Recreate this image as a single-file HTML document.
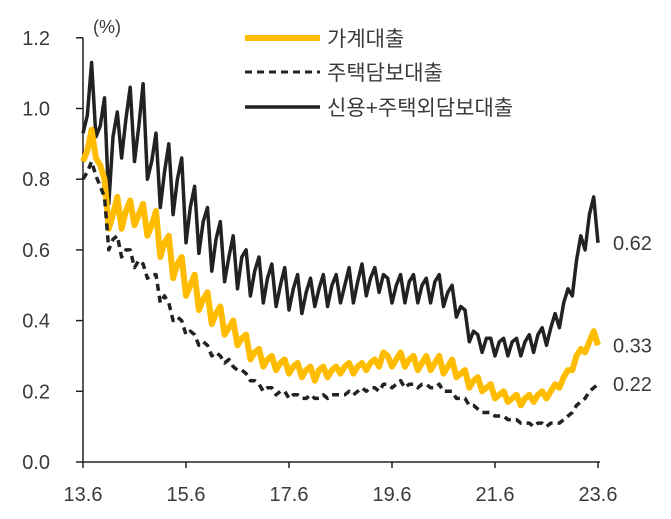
<!DOCTYPE html>
<html><head><meta charset="utf-8"><style>
body{margin:0;background:#fff}
svg text{font-family:"Liberation Sans","Noto Sans CJK KR",sans-serif;fill:#3a3a3a}
</style></head><body>
<svg id="chart" width="671" height="514" viewBox="0 0 671 514" xmlns="http://www.w3.org/2000/svg"></svg>
<script>
const yTicks=[0.0,0.2,0.4,0.6,0.8,1.0,1.2];
const xTickLabels=["13.6","15.6","17.6","19.6","21.6","23.6"];
const household=[0.85,0.88,0.94,0.86,0.84,0.80,0.66,0.70,0.75,0.66,0.71,0.74,0.67,0.70,0.73,0.64,0.67,0.71,0.58,0.62,0.64,0.52,0.56,0.58,0.47,0.50,0.53,0.43,0.46,0.48,0.39,0.42,0.44,0.36,0.38,0.40,0.33,
0.35,0.36,0.29,0.31,0.32,0.27,0.29,0.30,0.26,0.28,0.29,0.25,0.27,0.28,0.24,0.26,0.27,0.23,0.26,0.27,0.24,0.26,0.27,0.25,0.27,0.28,0.25,0.27,0.28,0.26,0.28,0.29,0.27,0.31,0.30,0.27,
0.29,0.31,0.27,0.29,0.30,0.26,0.28,0.30,0.26,0.28,0.30,0.25,0.27,0.29,0.24,0.25,0.26,0.21,0.23,0.24,0.20,0.21,0.22,0.18,0.19,0.20,0.17,0.18,0.19,0.16,0.18,0.19,0.17,0.19,0.20,0.18,
0.20,0.22,0.21,0.24,0.26,0.26,0.30,0.32,0.31,0.34,0.37,0.33];
const mortgage=[0.80,0.82,0.85,0.81,0.78,0.75,0.60,0.63,0.64,0.58,0.60,0.60,0.55,0.57,0.56,0.52,0.53,0.53,0.45,0.47,0.45,0.40,0.41,0.40,0.36,0.37,0.36,0.33,0.34,0.33,0.30,0.31,0.30,0.28,0.29,0.27,0.26,
0.26,0.25,0.23,0.23,0.22,0.20,0.21,0.21,0.19,0.20,0.20,0.18,0.19,0.19,0.18,0.18,0.19,0.18,0.18,0.19,0.18,0.19,0.19,0.19,0.19,0.20,0.19,0.20,0.21,0.20,0.21,0.21,0.20,0.22,0.22,0.21,
0.22,0.23,0.21,0.22,0.22,0.21,0.22,0.22,0.21,0.21,0.22,0.20,0.20,0.20,0.18,0.18,0.18,0.16,0.16,0.15,0.14,0.14,0.14,0.13,0.13,0.13,0.12,0.12,0.12,0.11,0.11,0.11,0.10,0.11,0.11,0.10,
0.11,0.11,0.11,0.12,0.13,0.14,0.16,0.17,0.18,0.20,0.21,0.22];
const credit=[0.93,0.98,1.13,0.92,0.95,1.03,0.73,0.92,0.99,0.86,0.97,1.06,0.85,0.95,1.07,0.80,0.85,0.93,0.72,0.82,0.90,0.70,0.80,0.86,0.62,0.72,0.78,0.59,0.68,0.72,0.54,0.63,0.68,0.51,0.58,0.64,0.49,
0.58,0.60,0.47,0.54,0.58,0.45,0.52,0.56,0.44,0.50,0.55,0.43,0.49,0.53,0.42,0.48,0.52,0.44,0.49,0.53,0.44,0.50,0.53,0.45,0.50,0.55,0.45,0.51,0.56,0.47,0.52,0.55,0.48,0.53,0.52,0.45,
0.50,0.53,0.45,0.51,0.53,0.45,0.50,0.52,0.45,0.51,0.53,0.44,0.48,0.50,0.41,0.44,0.43,0.34,0.37,0.36,0.31,0.35,0.35,0.30,0.34,0.35,0.30,0.34,0.35,0.30,0.34,0.36,0.31,0.36,0.38,0.33,
0.38,0.42,0.38,0.45,0.49,0.47,0.57,0.64,0.60,0.70,0.75,0.62];
const endLabels=["0.62","0.33","0.22"];

const svg=document.getElementById('chart');
const NS="http://www.w3.org/2000/svg";
const X0=83,DX=4.2917,Y0=462,YS=353.5;
const xs=i=>X0+i*DX, ys=v=>Y0-v*YS;
function mk(tag,attrs,parent){const e=document.createElementNS(NS,tag);for(const k in attrs)e.setAttribute(k,attrs[k]);(parent||svg).appendChild(e);return e;}

let ax=mk('line',{x1:X0,y1:ys(1.2),x2:X0,y2:Y0,stroke:'#222','stroke-width':1.5});


let bx=mk('line',{x1:X0,y1:Y0,x2:xs(120)+2,y2:Y0,stroke:'#222','stroke-width':1.5});


yTicks.forEach(v=>{
  let t=mk('line',{x1:X0-7,y1:ys(v),x2:X0,y2:ys(v),stroke:'#222','stroke-width':1.5});
  
  
  let l=mk('text',{x:50,y:ys(v)+7,'text-anchor':'end','font-size':20});
  l.textContent=v.toFixed(1);
  
  
});
xTickLabels.forEach((s,k)=>{
  const x=xs(k*24);
  let t=mk('line',{x1:x,y1:Y0,x2:x,y2:Y0+6,stroke:'#222','stroke-width':1.5});
  
  
  let l=mk('text',{x:x,y:501,'text-anchor':'middle','font-size':20});
  l.textContent=s;
  
  
});
let unit=mk('text',{x:93,y:33,'font-size':18});
unit.textContent='(%)';



function series(arr,style,name){
  const d=arr.map((v,i)=>(i?'L':'M')+xs(i).toFixed(1)+','+ys(v).toFixed(1)).join(' ');
  let p=mk('path',Object.assign({d:d,fill:'none','stroke-linejoin':'round'},style));
  
  
}
series(credit,{stroke:'#222','stroke-width':3.5},'credit-other-loan-line');
series(household,{stroke:'#FFBC00','stroke-width':6},'household-loan-line');
series(mortgage,{stroke:'#222','stroke-width':3.5,'stroke-dasharray':'7,5'},'mortgage-loan-line');

[[credit,0],[household,1],[mortgage,2]].forEach(([arr,k])=>{
  let l=mk('text',{x:613,y:ys(arr[arr.length-1])+7,'font-size':20});
  l.textContent=endLabels[k];
  
  
});

const legend=[["가계대출",{stroke:'#FFBC00','stroke-width':6},38],["주택담보대출",{stroke:'#222','stroke-width':3,'stroke-dasharray':'7,5'},72],["신용+주택외담보대출",{stroke:'#222','stroke-width':3.5},107]];
legend.forEach(([lab,st,y])=>{
  let g=mk('g',{});
  
  
  mk('line',Object.assign({x1:245,y1:y,x2:320,y2:y},st),g);
  let t=mk('text',{x:327,y:y+8,'font-size':21},g);
  t.textContent=lab;
});
</script>
</body></html>
